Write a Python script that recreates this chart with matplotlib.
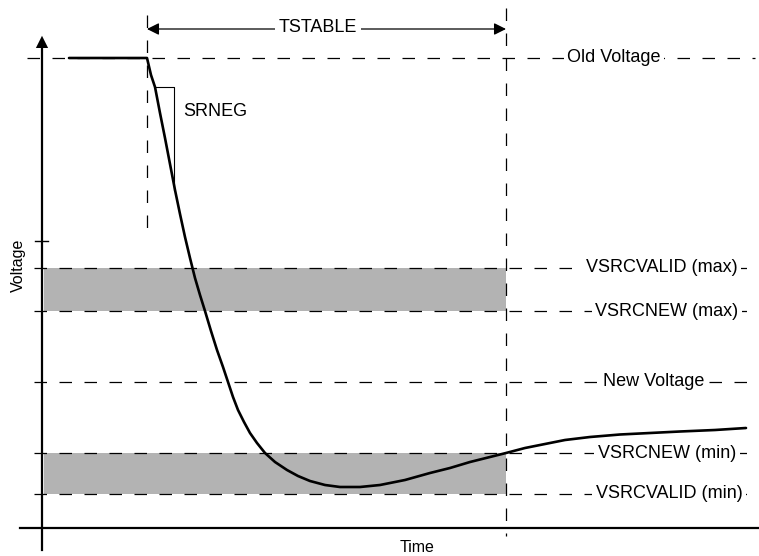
"""Voltage transition diagram: old voltage -> new voltage with TSTABLE window."""

import matplotlib
matplotlib.use('Agg')
import matplotlib.pyplot as plt
from matplotlib.patches import FancyArrowPatch

plt.rcParams['font.family'] = ['Liberation Sans', 'DejaVu Sans']
plt.rcParams['lines.scale_dashes'] = False

# ================================== data ====================================

# drawing units: x grows to the right (time), y grows downwards (canvas rows)
levels = [58, 268, 311, 382, 453, 494]
level_labels = ['Old Voltage', 'VSRCVALID (max)', 'VSRCNEW (max)',
                'New Voltage', 'VSRCNEW (min)', 'VSRCVALID (min)']
label_x = [614, 662, 667, 654, 667, 669]

bands = [(268, 311), (453, 494)]   # shaded tolerance windows

t_start = 147    # start of transition
t_stable = 506   # end of TSTABLE

curve_t = [69, 147, 151, 155, 160, 165, 170, 175, 180, 185, 190, 195, 200,
           205, 211, 217, 223, 228, 233, 238, 244, 250, 257, 265, 275, 287,
           298, 310, 325, 340, 360, 380, 405, 430, 450, 470, 490, 506, 525,
           545, 565, 590, 620, 650, 680, 715, 746]
curve_v = [58, 58, 75, 87, 113, 138, 164, 190, 214, 237, 258, 278, 295,
           311, 331, 350, 367, 382, 397, 410, 422, 433, 443, 453, 462, 470,
           476, 481, 485, 487, 487, 485, 480, 473, 468, 462, 457, 453, 448,
           444, 440, 437, 434.5, 433, 431.5, 430, 428]

sr_t = [155, 174, 174]
sr_v = [87, 87, 190]

W, H = 759, 556
DASH = (0, (9, 9))

# ================================== plot ====================================

fig = plt.figure(figsize=(W / 100, H / 100), dpi=100)
ax = fig.add_axes([0, 0, 1, 1])
ax.set_xlim(0, W)
ax.set_ylim(H, 0)
ax.axis('off')

# gray windows
for top, bot in bands:
    ax.fill_between([44, t_stable], top, bot, color='#b3b3b3', lw=0, zorder=1)

# horizontal dashed reference lines with labels on the right
for y, lab, lx in zip(levels, level_labels, label_x):
    x0 = 27 if y == levels[0] else 34
    ax.plot([x0, 755], [y, y], color='black', lw=0.9, linestyle=DASH, zorder=2)
    ax.text(lx, y, lab, ha='center', va='center', fontsize=13, zorder=4,
            bbox=dict(facecolor='white', edgecolor='none', pad=2.5))

# vertical dashed lines
ax.plot([t_start, t_start], [15, 232], color='black', lw=0.9,
        linestyle=DASH, zorder=2)
ax.plot([t_stable, t_stable], [8, 536], color='black', lw=0.9,
        linestyle=DASH, zorder=2)

# axes
ax.plot([20, W], [528, 528], color='black', lw=1.6, zorder=3)
ax.plot([42, 42], [46, 550], color='black', lw=1.6, zorder=3)
ax.plot([35, 48], [241, 241], color='black', lw=1.0, zorder=3)
ax.add_patch(FancyArrowPatch((42, 60), (42, 33), arrowstyle='-|>',
                             mutation_scale=22, color='black', lw=0, zorder=3))

# TSTABLE arrow
ax.add_patch(FancyArrowPatch((t_start, 29), (t_stable, 29), arrowstyle='<|-|>',
                             mutation_scale=18, color='black', lw=0.9,
                             shrinkA=0, shrinkB=0, zorder=3))
ax.text(318, 28, 'TSTABLE', ha='center', va='center', fontsize=13, zorder=4,
        bbox=dict(facecolor='white', edgecolor='none', pad=2.5))

# slew rate marker
ax.plot(sr_t, sr_v, color='black', lw=0.8, zorder=3)
ax.text(183, 111, 'SRNEG', ha='left', va='center', fontsize=13)

# voltage curve
ax.plot(curve_t, curve_v, color='black', lw=1.9, zorder=5,
        solid_joinstyle='round', solid_capstyle='round')

# axis titles
ax.text(18, 265, 'Voltage', rotation=90, ha='center', va='center', fontsize=11.5)
ax.text(417, 547, 'Time', ha='center', va='center', fontsize=11.5)

fig.savefig('out.png', dpi=100)
